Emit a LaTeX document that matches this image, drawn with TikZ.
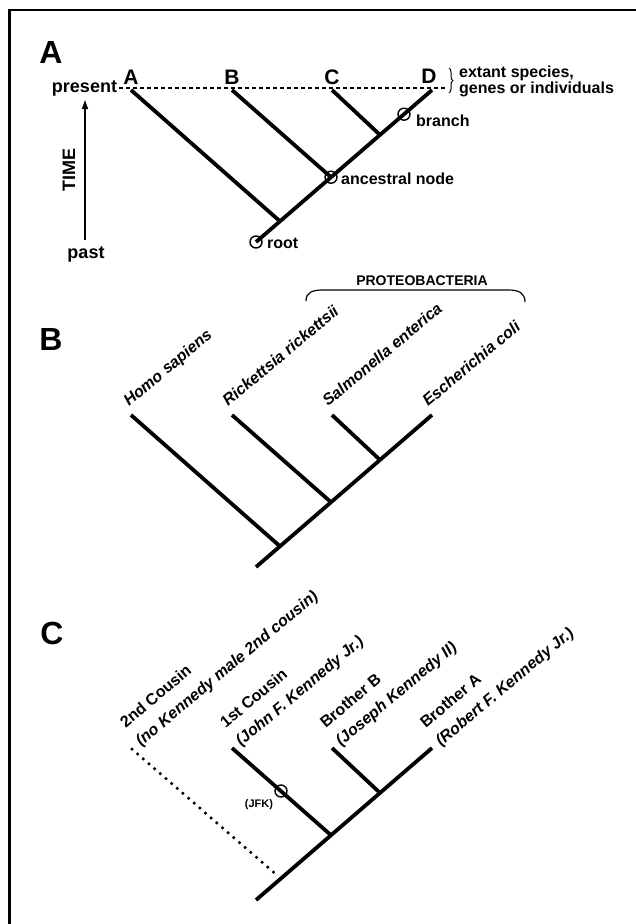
\documentclass[tikz,border=0pt]{standalone}
\usepackage{fontspec}
\setmainfont{Liberation Sans}
\usetikzlibrary{arrows.meta,decorations.pathreplacing}
\begin{document}
\begin{tikzpicture}[x=1pt,y=-1pt,
  tree/.style={line width=3.8pt},
  markcirc/.style={draw,circle,line width=1.4pt,minimum size=12pt,inner sep=0pt},
  big/.style={font=\bfseries\fontsize{32}{36}\selectfont,inner sep=0pt},
  tip/.style={font=\bfseries\fontsize{21}{24}\selectfont,inner sep=0pt},
  mid/.style={font=\bfseries\fontsize{18}{21}\selectfont,inner sep=0pt},
  lbl/.style={font=\bfseries\fontsize{16}{19}\selectfont,inner sep=0pt},
  spc/.style={font=\bfseries\itshape\fontsize{16}{19}\selectfont,inner sep=0pt,anchor=base west,rotate=40},
  rel/.style={font=\bfseries\fontsize{16}{19}\selectfont,inner sep=0pt,anchor=base west,rotate=40},
  relit/.style={font=\bfseries\itshape\fontsize{16}{19}\selectfont,inner sep=0pt,anchor=base west,rotate=40}]
\useasboundingbox (0,0) rectangle (636,924);
\fill[white] (0,0) rectangle (636,924);
% frame (left and top edges only)
\coordinate (frBL) at (9.5,924);
\coordinate (frTL) at (9.5,10);
\coordinate (frTR) at (636,10);
\draw[line width=2.5pt] (frBL) -- (frTL) -- (frTR);

% ---------------- Panel A ----------------
\node[big] (labA) at (51,52) {A};
\node[mid] (present) at (84.5,88) {present};
\node[mid] (past) at (86,254) {past};
\node[mid,rotate=90] (time) at (69,170) {TIME};
\coordinate (arrbot) at (85,240);
\coordinate (arrtop) at (85,100);
\draw[line width=1.4pt,-{Triangle[length=9pt,width=6pt]}] (arrbot) -- (arrtop);

\coordinate (aA) at (131,90);
\coordinate (aB) at (232,90);
\coordinate (aC) at (332,90);
\coordinate (aD) at (432,90);
\coordinate (aJ1) at (280,221.3);
\coordinate (aJ2) at (331,177.2);
\coordinate (aJ3) at (380,134.9);
\coordinate (aR) at (256,242);
\coordinate (dashL) at (119,88);
\coordinate (dashR) at (445,88);
\draw[line width=1.2pt,dash pattern=on 4pt off 3pt] (dashL) -- (dashR);
\draw[tree] (aR) -- (aD);
\draw[tree] (aA) -- (aJ1);
\draw[tree] (aB) -- (aJ2);
\draw[tree] (aC) -- (aJ3);
\node[tip] (tA) at (131,77) {A};
\node[tip] (tB) at (232,77) {B};
\node[tip] (tC) at (332,77) {C};
\node[tip] (tD) at (429,76) {D};

\node[markcirc] (croot) at (aR) {};
\node[markcirc] (canc) at (aJ2) {};
\node[markcirc] (cbr) at (404,114.2) {};
\node[lbl,anchor=west] (troot) at (267,243) {root};
\node[lbl,anchor=west] (tanc) at (341,179) {ancestral node};
\node[lbl,anchor=west] (tbr) at (416,121) {branch};

\coordinate (brT) at (449,68);
\coordinate (brB) at (449,93);
\draw[line width=1pt,decorate,decoration={brace,amplitude=4pt}] (brT) -- (brB);
\node[lbl,anchor=west] (ext1) at (459,73) {extant species,};
\node[lbl,anchor=west] (ext2) at (459,89) {genes or individuals};

% ---------------- Panel B ----------------
\node[big] (labB) at (51,339) {B};
\node[font=\bfseries\fontsize{14}{17}\selectfont,inner sep=0pt] (proteo) at (422,281) {PROTEOBACTERIA};
\coordinate (pL) at (306,301);
\coordinate (pR) at (525,302);
\draw[line width=1.2pt] (pL) .. controls (306,292) and (313,290) .. (323,290) -- (508,290) .. controls (519,290) and (525,293) .. (pR);

\coordinate (bA) at (131,415);
\coordinate (bB) at (232,415);
\coordinate (bC) at (332,415);
\coordinate (bD) at (432,415);
\coordinate (bJ1) at (280,546.3);
\coordinate (bJ2) at (331,502.2);
\coordinate (bJ3) at (380,459.9);
\coordinate (bR) at (256,567);
\draw[tree] (bR) -- (bD);
\draw[tree] (bA) -- (bJ1);
\draw[tree] (bB) -- (bJ2);
\draw[tree] (bC) -- (bJ3);
\node[spc] (homo) at (129,407) {Homo sapiens};
\node[spc] (rick) at (228,407) {Rickettsia rickettsii};
\node[spc] (salm) at (328,407) {Salmonella enterica};
\node[spc] (esch) at (428,407) {Escherichia coli};

% ---------------- Panel C ----------------
\node[big] (labC) at (52,633) {C};
\coordinate (cA) at (132,749);
\coordinate (cB) at (232,748);
\coordinate (cC) at (332,748);
\coordinate (cD) at (432,748);
\coordinate (cJ0) at (279,877);
\coordinate (cJ2) at (331,835.2);
\coordinate (cJ3) at (380,792.9);
\coordinate (cR) at (256,900);
\draw[line width=3.5pt,line cap=round,dash pattern=on 0pt off 7.5pt] (cA) -- (cJ0);
\draw[tree] (cR) -- (cD);
\draw[tree] (cB) -- (cJ2);
\draw[tree] (cC) -- (cJ3);
\node[markcirc] (cjfk) at (281,791) {};
\node[font=\bfseries\fontsize{11}{13}\selectfont,inner sep=0pt] (jfk) at (259,805) {(JFK)};

\node[rel] (r1a) at (125.6,728.6) {2nd Cousin};
\node[relit] (r1b) at (141,747) {(no Kennedy male 2nd cousin)};
\node[rel] (r2a) at (225.6,728.6) {1st Cousin};
\node[relit] (r2b) at (241,747) {(John F. Kennedy Jr.)};
\node[rel] (r3a) at (325.6,728.6) {Brother B};
\node[relit] (r3b) at (341,747) {(Joseph Kennedy II)};
\node[rel] (r4a) at (425.6,728.6) {Brother A};
\node[relit] (r4b) at (441,747) {(Robert F. Kennedy Jr.)};
\end{tikzpicture}
\end{document}
